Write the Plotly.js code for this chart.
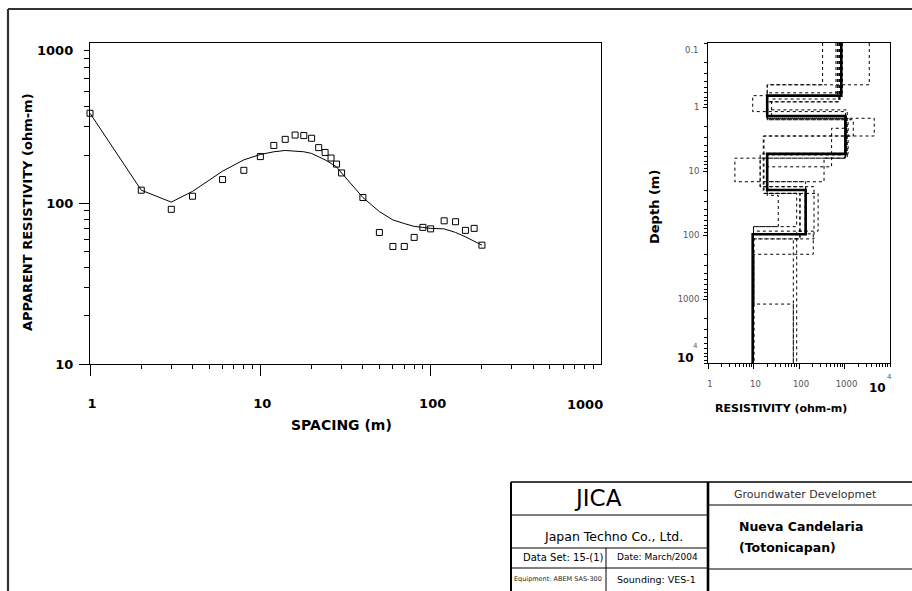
<!DOCTYPE html>
<html><head><meta charset="utf-8">
<script src="https://cdn.plot.ly/plotly-3.0.1.min.js"></script>
<style>html,body{margin:0;padding:0;background:#fff}#chart{width:912px;height:591px}</style>
</head><body><div id="chart"></div>
<script>
// ---- Sounding curve data (AB/2 spacing in m, apparent resistivity in ohm-m)
const spacing = [1,2,3,4,6,8,10,12,14,16,18,20,22,24,26,28,30,40,50,60,70,80,90,100,120,140,160,180,200];
const rhoObserved = [365,121,92,111,141,161,196,230,251,267,265,255,223,208,192,176,155,109,66,54,54,61.5,71,69.5,78,77,68,70,55];
const rhoCalculated = [365,121,102,119,159,187,202,210,214,213,210,205,196,187,178,169,155,109,89,79,75,72,71,70,69.5,66,62,58,55];

// ---- Best-fit layered model (resistivity per layer, depth of each interface in m)
const modelRho = [850, 20, 1050, 20, 140, 9.6];
const modelDepth = [0.665, 1.38, 5.4, 19.8, 97.5];

// ---- Equivalent models (dashed)
const eqRho1 = [3500, 20, 1050, 20, 140, 10];     const eqDepth1 = [0.45, 1.5, 5.3, 19.8, 96];
const eqRho2 = [330, 20, 1100, 20, 137, 9.6];     const eqDepth2 = [0.45, 1.38, 5.6, 19.5, 97];
const eqRho3 = [650, 9.6, 1050, 14, 214, 10.3];   const eqDepth3 = [0.665, 1.18, 6.3, 17.6, 115];
const eqRho4 = [700, 20, 4500, 17, 263, 10];      const eqDepth4 = [0.665, 1.5, 2.84, 22.4, 87];
const eqRho5 = [900, 20, 1560, 16.4, 105, 75];    const eqDepth5 = [0.6, 1.58, 2.84, 22.4, 115];
const eqRho6 = [800, 20, 1150, 3.9, 140, 10];     const eqDepth6 = [0.83, 1.11, 6.3, 14.7, 96];
const eqRho7 = [850, 20, 1200, 20, 89, 10];       const eqDepth7 = [0.665, 1.5, 5.4, 22.4, 74];
const eqRho8 = [780, 25, 1100, 20, 35, 10];       const eqDepth8 = [0.75, 1.4, 5.5, 24, 74];
const eqRho9 = [820, 20, 1000, 355, 20, 140, 10]; const eqDepth9 = [0.665, 1.38, 6.3, 14.7, 19.8, 96];
const eqRho10 = [850, 20, 1050, 20, 140, 206, 10.3, 75]; const eqDepth10 = [0.665, 1.38, 5.4, 19.8, 96, 200, 1200];
const eqRho11 = [870, 20, 1000, 14, 140, 89];     const eqDepth11 = [0.665, 1.38, 5.4, 17.6, 87];
const eqRho12 = [750, 20, 1000, 520, 20, 105, 10]; const eqDepth12 = [0.83, 1.58, 2.15, 8.6, 22.4, 115];

// ---- Tick labels
const spacingTickVals = [1, 10, 100];
const spacingTickText = ['1', '10', '100'];
const spacingEdgeVal = 1000, spacingEdgeText = '1000';
const rhoTickVals = [10, 100];
const rhoTickText = ['10', '100'];
const rhoEdgeVal = 1000, rhoEdgeText = '1000';
const resTickVals = [1, 10, 100, 1000];
const resTickText = ['1', '10', '100', '1000'];
const depthTickVals = [1, 10, 100, 1000];
const depthTickText = ['1', '10', '100', '1000'];
const depthTopVal = 0.1, depthTopText = '0.1';
const edgeVal = 10000, edgeBase = '10', edgeExp = '4';

const DEPTH_TOP = 0.1, DEPTH_BOTTOM = 10000;

function stepModel(rho, depth) {
  const xs = [], ys = [];
  let top = DEPTH_TOP;
  for (let i = 0; i < rho.length; i++) {
    const bot = i < depth.length ? depth[i] : DEPTH_BOTTOM;
    xs.push(rho[i], rho[i]);
    ys.push(top, bot);
    top = bot;
  }
  return {x: xs, y: ys};
}
function minorTicks(lo, hi) {
  const v = [];
  for (let d = lo; d < hi; d *= 10) for (let m = 2; m <= 9; m++) v.push(m * d);
  return v;
}

const W = 912, H = 591;
const px = x => x / W, py = y => 1 - y / H;
const FONT = 'DejaVu Sans';

const traces = [];
const eqModels = [[eqRho1,eqDepth1],[eqRho2,eqDepth2],[eqRho3,eqDepth3],[eqRho4,eqDepth4],
  [eqRho5,eqDepth5],[eqRho6,eqDepth6],[eqRho7,eqDepth7],[eqRho8,eqDepth8],[eqRho9,eqDepth9],
  [eqRho10,eqDepth10],[eqRho11,eqDepth11],[eqRho12,eqDepth12]];
eqModels.forEach(([r, d]) => {
  const s = stepModel(r, d);
  traces.push({x: s.x, y: s.y, xaxis: 'x2', yaxis: 'y2', mode: 'lines', type: 'scatter',
    line: {color: '#000', width: 1, dash: '3px,3px'}, hoverinfo: 'skip'});
});
const best = stepModel(modelRho, modelDepth);
traces.push({x: best.x, y: best.y, xaxis: 'x2', yaxis: 'y2', mode: 'lines', type: 'scatter',
  line: {color: '#000', width: 2.6}});
traces.push({x: spacing, y: rhoCalculated, xaxis: 'x', yaxis: 'y', mode: 'lines', type: 'scatter',
  line: {color: '#000', width: 1}});
traces.push({x: spacing, y: rhoObserved, xaxis: 'x', yaxis: 'y', mode: 'markers', type: 'scatter',
  cliponaxis: false,
  marker: {symbol: 'square-open', size: 6, color: '#000', line: {width: 1, color: '#000'}}});

const common = {showgrid: false, zeroline: false, showline: true, linecolor: '#000', linewidth: 1,
  tickcolor: '#000', tickwidth: 1, tickmode: 'array'};
const overlayCommon = {showgrid: false, zeroline: false, showline: false, showticklabels: false,
  tickmode: 'array', tickcolor: '#333', tickwidth: 1, ticks: 'inside'};

const layout = {
  width: W, height: H, margin: {l: 0, r: 0, t: 0, b: 0},
  paper_bgcolor: '#fff', plot_bgcolor: 'rgba(0,0,0,0)', showlegend: false,
  xaxis: Object.assign({}, common, {type: 'log', range: [0, 3], domain: [px(90), px(601)], anchor: 'y',
    mirror: true, ticks: 'outside', ticklen: 11, tickvals: spacingTickVals, ticktext: spacingTickText,
    tickfont: {family: FONT, size: 13, color: '#000', weight: 'bold'}, ticklabelstandoff: 16, ticklabelshift: 2,
    minor: {tickmode: 'array', tickvals: minorTicks(1, 1000), ticks: 'outside', ticklen: 4, tickcolor: '#000', showgrid: false}}),
  yaxis: Object.assign({}, common, {type: 'log', range: [1, 3], domain: [py(364), py(43)], anchor: 'x',
    mirror: true, ticks: 'outside', ticklen: 10, tickvals: rhoTickVals, ticktext: rhoTickText,
    tickfont: {family: FONT, size: 13, color: '#000', weight: 'bold'}, ticklabelstandoff: 3,
    minor: {tickmode: 'array', tickvals: minorTicks(10, 1000), ticks: 'outside', ticklen: 5, tickcolor: '#000', showgrid: false}}),
  xaxis3: Object.assign({}, overlayCommon, {type: 'log', range: [0, 3], overlaying: 'x', side: 'top', anchor: 'y',
    tickvals: [10, 100], ticklen: 10}),
  xaxis5: Object.assign({}, overlayCommon, {type: 'log', range: [0, 3], overlaying: 'x', side: 'bottom', anchor: 'y',
    tickvals: [spacingEdgeVal], ticks: 'outside', ticklen: 11, tickcolor: '#000'}),
  yaxis3: Object.assign({}, overlayCommon, {type: 'log', range: [1, 3], overlaying: 'y', side: 'right', anchor: 'x',
    tickvals: [100], ticklen: 10}),
  yaxis5: Object.assign({}, overlayCommon, {type: 'log', range: [1, 3], overlaying: 'y', side: 'left', anchor: 'x',
    tickvals: [rhoEdgeVal], ticks: 'outside', ticklen: 10, tickcolor: '#000'}),
  xaxis2: Object.assign({}, common, {type: 'log', range: [0, 4], domain: [px(708), px(890)], anchor: 'y2',
    mirror: true, ticks: 'outside', ticklen: 5, tickvals: resTickVals, ticktext: resTickText,
    tickfont: {family: FONT, size: 8.5, color: '#555'}, ticklabelstandoff: 8, ticklabelshift: 2,
    minor: {tickmode: 'array', tickvals: minorTicks(1, 10000).concat([edgeVal]), ticks: 'outside', ticklen: 3, tickcolor: '#000', showgrid: false}}),
  yaxis2: Object.assign({}, common, {type: 'log', range: [4, -1], domain: [py(363), py(43)], anchor: 'x2',
    mirror: true, ticks: 'outside', ticklen: 4, tickvals: depthTickVals, ticktext: depthTickText,
    tickfont: {family: FONT, size: 8.5, color: '#555'}, ticklabelstandoff: 2,
    minor: {tickmode: 'array', tickvals: [depthTopVal].concat(minorTicks(0.1, 10000), [edgeVal]), ticks: 'outside', ticklen: 3, tickcolor: '#000', showgrid: false}}),
  xaxis4: Object.assign({}, overlayCommon, {type: 'log', range: [0, 4], overlaying: 'x2', side: 'top', anchor: 'y2',
    tickvals: [10, 100, 1000], ticklen: 5}),
  yaxis4: Object.assign({}, overlayCommon, {type: 'log', range: [4, -1], overlaying: 'y2', side: 'right', anchor: 'x2',
    tickvals: [1, 10, 100, 1000], ticklen: 7}),
  shapes: [],
  annotations: []
};

function hline(x0, x1, y, w, c) {
  layout.shapes.push({type: 'line', xref: 'paper', yref: 'paper', x0: px(x0), x1: px(x1), y0: py(y), y1: py(y),
    line: {color: c || '#000', width: w}});
}
function vline(x, y0, y1, w, c) {
  layout.shapes.push({type: 'line', xref: 'paper', yref: 'paper', x0: px(x), x1: px(x), y0: py(y0), y1: py(y1),
    line: {color: c || '#000', width: w}});
}
// outer frame
hline(8, 912, 9, 2.2, '#333');
vline(8, 9, 591, 2.2, '#333');
// title block
hline(511, 912, 482, 1.6);
vline(511, 482, 591, 2);
vline(708, 482, 591, 2.6);
hline(511, 708, 515, 1);
hline(511, 708, 548, 1);
hline(511, 708, 568, 1);
vline(606, 548, 591, 1);
hline(708, 912, 505, 1);
hline(708, 912, 569, 1);

function txt(t, x, y, size, opts) {
  layout.annotations.push(Object.assign({text: t, xref: 'paper', yref: 'paper', x: px(x), y: py(y),
    xanchor: 'center', yanchor: 'middle', showarrow: false,
    font: {family: FONT, size: size, color: '#000'}}, opts || {}));
}
const boldFont = (s) => ({family: FONT, size: s, color: '#000', weight: 'bold'});
const grayFont = (s) => ({family: FONT, size: s, color: '#555'});
// axis titles
txt('APPARENT RESISTIVITY (ohm-m)', 27, 212, 13, {textangle: -90, font: boldFont(13)});
txt('SPACING (m)', 341, 425, 14, {font: boldFont(14)});
txt('Depth (m)', 654, 207, 13, {textangle: -90, font: boldFont(13)});
txt('RESISTIVITY (ohm-m)', 781, 408, 11, {font: boldFont(11)});
// edge tick labels, pulled inside the plot edge as in the original
layout.annotations.push({text: spacingEdgeText, xref: 'x', yref: 'paper', x: Math.log10(spacingEdgeVal), y: py(405),
  xanchor: 'center', yanchor: 'middle', xshift: -16, showarrow: false, font: boldFont(13)});
layout.annotations.push({text: rhoEdgeText, xref: 'paper', yref: 'y', x: px(75), y: Math.log10(rhoEdgeVal),
  xanchor: 'right', yanchor: 'middle', yshift: -8, showarrow: false, font: boldFont(13)});
layout.annotations.push({text: depthTopText, xref: 'paper', yref: 'y2', x: px(701), y: Math.log10(depthTopVal),
  xanchor: 'right', yanchor: 'middle', yshift: -7, showarrow: false, font: grayFont(8.5)});
layout.annotations.push({text: edgeBase, xref: 'x2', yref: 'paper', x: Math.log10(edgeVal), y: py(388),
  xanchor: 'center', yanchor: 'middle', xshift: -13, showarrow: false, font: boldFont(12)});
layout.annotations.push({text: edgeExp, xref: 'x2', yref: 'paper', x: Math.log10(edgeVal), y: py(377),
  xanchor: 'center', yanchor: 'middle', xshift: -1, showarrow: false, font: grayFont(7)});
layout.annotations.push({text: edgeBase, xref: 'paper', yref: 'y2', x: px(685), y: Math.log10(edgeVal),
  xanchor: 'center', yanchor: 'middle', yshift: 5, showarrow: false, font: boldFont(12)});
layout.annotations.push({text: edgeExp, xref: 'paper', yref: 'y2', x: px(695), y: Math.log10(edgeVal),
  xanchor: 'center', yanchor: 'middle', yshift: 17, showarrow: false, font: grayFont(7)});
// title block text
txt('JICA', 598, 498, 23);
txt('Japan Techno Co., Ltd.', 613, 536, 12.5);
txt('Data Set: 15-(1)', 563, 557, 10);
txt('Date: March/2004', 657, 557, 9);
txt('Equipment: ABEM SAS-300', 558, 579, 6.5, {font: {family: FONT, size: 6.5, color: '#222'}});
txt('Sounding: VES-1', 656, 579, 9.5);
txt('Groundwater Developmet', 805, 494, 11, {font: {family: FONT, size: 11, color: '#333'}});
txt('Nueva Candelaria', 737, 526, 12, {xanchor: 'left', font: boldFont(12.5)});
txt('(Totonicapan)', 737, 547, 12, {xanchor: 'left', font: boldFont(12.5)});

Plotly.newPlot('chart', traces, layout, {staticPlot: true, displayModeBar: false});
</script></body></html>
